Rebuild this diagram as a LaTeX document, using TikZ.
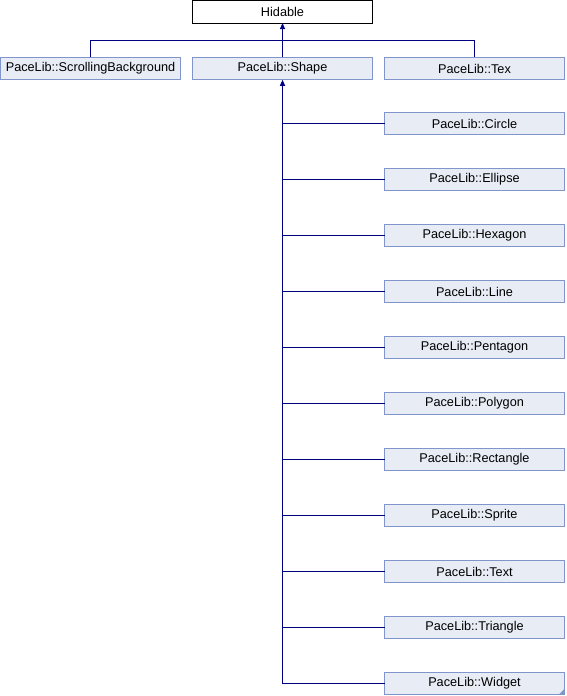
\documentclass[tikz,border=0pt]{standalone}
\usepackage{fontspec}
\setmainfont{Liberation Sans}
\usetikzlibrary{arrows.meta}
\definecolor{boxfill}{HTML}{E8ECF5}
\definecolor{boxline}{HTML}{7F95CB}
\definecolor{conn}{HTML}{000080}
\begin{document}
\begin{tikzpicture}[x=1pt,y=-1pt,
  cls/.style={draw=boxline,fill=boxfill,line width=1pt,minimum width=180pt,minimum height=22.5pt,inner sep=0pt,outer sep=0pt,font=\fontsize{12.7}{14}\selectfont},
  base/.style={cls,draw=black,fill=white},
  link/.style={draw=conn,line width=1pt},
  arr/.style={link,-{Triangle[width=5pt,length=6pt]}}]
\useasboundingbox (0,0) rectangle (566,696);
\node[base] (hid) at (282.5,11.75) {Hidable};
\node[cls] (scroll) at (90.5,68.5) {PaceLib::ScrollingBackground};
\node[cls] (shape) at (282.5,68.5) {PaceLib::Shape};
\node[cls] (tex) at (474.5,68.5) {PaceLib::Tex};
\node[cls] (circle) at (474.5,123.5) {PaceLib::Circle};
\node[cls] (ellipse) at (474.5,179.5) {PaceLib::Ellipse};
\node[cls] (hexagon) at (474.5,235.5) {PaceLib::Hexagon};
\node[cls] (line) at (474.5,291.5) {PaceLib::Line};
\node[cls] (pentagon) at (474.5,347.5) {PaceLib::Pentagon};
\node[cls] (polygon) at (474.5,403.5) {PaceLib::Polygon};
\node[cls] (rectangle) at (474.5,459.5) {PaceLib::Rectangle};
\node[cls] (sprite) at (474.5,515.5) {PaceLib::Sprite};
\node[cls] (text) at (474.5,571.5) {PaceLib::Text};
\node[cls] (triangle) at (474.5,627.5) {PaceLib::Triangle};
\node[cls] (widget) at (474.5,683.5) {PaceLib::Widget};
\fill[boxline] (widget.south east) -- ++(0,-6) -- ++(-6,6) -- cycle;
% top level
\draw[arr] (shape.north) -- (hid.south);
\draw[link] (scroll.north) -- ++(0,-17) -| (tex.north);
% children of Shape
\foreach \c in {circle,ellipse,hexagon,line,pentagon,polygon,rectangle,sprite,text,triangle}
  \draw[link] (\c.west) -- (shape.south |- \c.west);
\draw[arr] (widget.west) -| (shape.south);
\end{tikzpicture}
\end{document}
